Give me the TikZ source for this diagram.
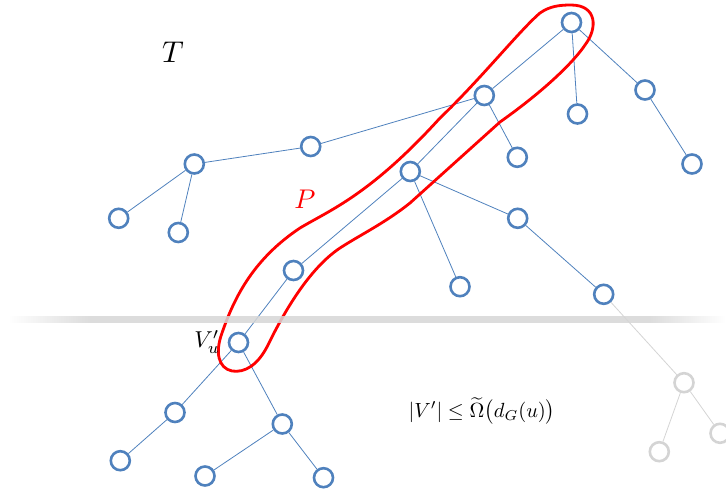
\documentclass[tikz,border=0pt]{standalone}
\usepackage{graphicx}
\usetikzlibrary{fadings}
\definecolor{nodeblue}{RGB}{79,129,189}
\definecolor{lightg}{RGB}{212,212,212}
\tikzfading[name=fadein, left color=transparent!100, right color=transparent!0]
\tikzfading[name=fadeout, left color=transparent!0, right color=transparent!100]
\begin{document}
\begin{tikzpicture}[x=1pt,y=-1pt,
  vx/.style={circle,draw=nodeblue,line width=2.6pt,fill=white,minimum size=19pt,inner sep=0pt},
  gvx/.style={vx,draw=lightg},
  ed/.style={draw=nodeblue,line width=0.8pt},
  ged/.style={draw=lightg,line width=0.8pt},
  loop/.style={draw=red,line width=2.8pt},
  band/.style={fill=black!16,opacity=0.85}]
\useasboundingbox (0,0) rectangle (726,491);
% nodes
\node[vx] (r) at (571.5,22.5) {};
\node[vx] (a) at (484.3,95.5) {};
\node[vx] (b) at (577.5,114) {};
\node[vx] (c) at (645,90) {};
\node[vx] (d) at (692,164) {};
\node[vx] (e) at (517.3,157.3) {};
\node[vx] (f) at (310.7,146.5) {};
\node[vx] (g) at (194.3,164) {};
\node[vx] (h) at (118.7,218.3) {};
\node[vx] (i) at (178.3,232.5) {};
\node[vx] (j) at (410.3,171.5) {};
\node[vx] (k) at (517.7,218.3) {};
\node[vx] (l) at (603.7,294.3) {};
\node[vx] (m) at (460,286.7) {};
\node[vx] (n) at (293.5,270.5) {};
\node[vx] (vu) at (238.5,342.5) {};
\node[vx] (o) at (175,412.5) {};
\node[vx] (p) at (282.3,424) {};
\node[vx] (q) at (120.3,460.7) {};
\node[vx] (s) at (205,476) {};
\node[vx] (t) at (323.5,477.7) {};
\node[gvx] (g1) at (684,382.7) {};
\node[gvx] (g2) at (659.3,451.7) {};
\node[gvx] (g3) at (720,433.3) {};
% edges
\path[ed] (r)--(a) (r)--(b) (r)--(c) (c)--(d) (a)--(e) (a)--(f) (a)--(j)
  (f)--(g) (g)--(h) (g)--(i) (j)--(k) (j)--(m) (j)--(n) (k)--(l)
  (n)--(vu) (vu)--(o) (vu)--(p) (o)--(q) (p)--(s) (p)--(t);
\path[ged] (l)--(g1) (g1)--(g2) (g1)--(g3);
% red loop
\path[loop] (571,5) .. controls (597,5) and (598,28) .. (585,45)
 .. controls (575,60) and (548,88) .. (500,122)
 -- (410,203)
 .. controls (385,223) and (360,235) .. (340,248)
 .. controls (310,268) and (285,310) .. (268,345)
 .. controls (258,365) and (245,373) .. (232,371)
 .. controls (218,368) and (215,352) .. (222,333)
 .. controls (235,295) and (255,258) .. (300,228)
 .. controls (330,210) and (370,195) .. (440,118)
 .. controls (480,80) and (520,30) .. (540,13)
 .. controls (550,6) and (560,5) .. cycle;
% grey band
\fill[band] (90,315.5) rectangle (650,322.5);
\fill[band,path fading=fadein] (8,315.5) rectangle (90,322.5);
\fill[band,path fading=fadeout] (650,315.5) rectangle (726,322.5);
% labels
\node (lT) at (173,52) {\scalebox{3.0}{$T$}};
\node[text=red] (lP) at (305,199) {\scalebox{2.7}{$P$}};
\node[anchor=east,inner sep=0pt] (lV) at (220,342) {\scalebox{2.3}{$V'_u$}};
\node (lF) at (482,411) {\scalebox{2.05}{$|V'|\le\widetilde{\Omega}\bigl(d_G(u)\bigr)$}};
\end{tikzpicture}
\end{document}
